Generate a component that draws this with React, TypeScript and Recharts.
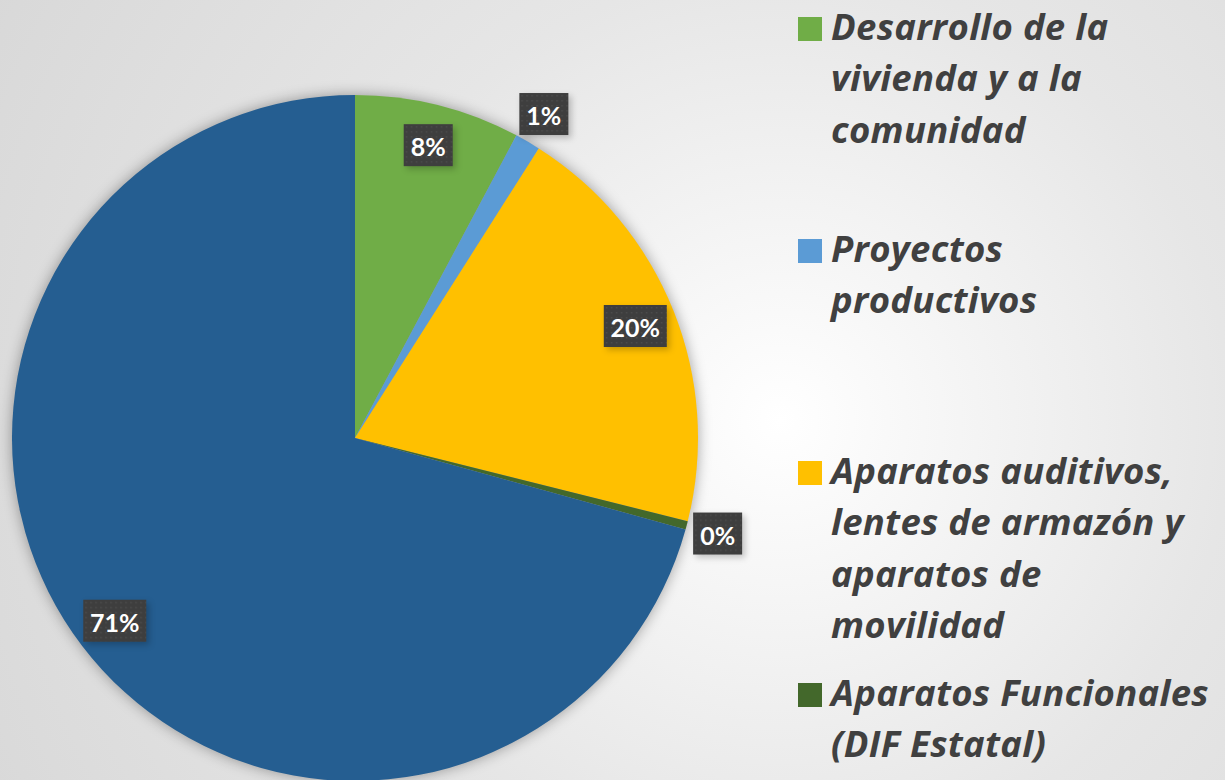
import React from 'react';
import { PieChart, Pie, Cell, Legend } from 'recharts';

const categories = [
  'Desarrollo de la vivienda y a la comunidad',
  'Proyectos productivos',
  'Aparatos auditivos, lentes de armazón y aparatos de movilidad',
  'Aparatos Funcionales (DIF Estatal)',
  'Otros apoyos',
];
const values = [7.8, 1.2, 19.9, 0.4, 70.7];
const colors = ['#70AD47', '#5B9BD5', '#FFC000', '#43682B', '#255E91'];
const legendLines = [
  ['Desarrollo de la', 'vivienda y a la', 'comunidad'],
  ['Proyectos', 'productivos'],
  ['Aparatos auditivos,', 'lentes de armazón y', 'aparatos de', 'movilidad'],
  ['Aparatos Funcionales', '(DIF Estatal)'],
  ['Otros apoyos'],
];

const data = categories.map((name, i) => ({ name, value: values[i] }));

const RAD = Math.PI / 180;
const LEGEND_FS = 36.5;

const renderLabel = (props: any) => {
  const { cx, cy, midAngle, outerRadius, percent, index } = props;
  const r = percent < 0.05 ? outerRadius + 32 : outerRadius * 0.88;
  const x = cx + r * Math.cos(-midAngle * RAD);
  const y = cy + r * Math.sin(-midAngle * RAD);
  const text = `${Math.round(percent * 100)}%`;
  const w = 21 + 14 * text.length;
  const h = 42;
  const pid = `dots${index}`;
  return (
    <g key={`lbl${index}`}>
      <defs>
        <pattern id={pid} width={5} height={5} patternUnits="userSpaceOnUse" x={x - w / 2} y={y - h / 2}>
          <rect width={5} height={5} fill="#3e3e3e" />
          <rect x={2} y={2} width={1.5} height={1.5} fill="#4c4c4c" />
        </pattern>
      </defs>
      <rect x={x - w / 2 + 3} y={y - h / 2 + 3} width={w} height={h} fill="rgba(0,0,0,0.22)" style={{ filter: 'blur(3px)' }} />
      <rect x={x - w / 2} y={y - h / 2} width={w} height={h} fill={`url(#${pid})`} />
      <text
        x={x}
        y={y + 1}
        textAnchor="middle"
        dominantBaseline="central"
        fill="#ffffff"
        fontFamily="Lato, 'Open Sans', sans-serif"
        fontWeight={700}
        fontSize={25}
      >
        {text}
      </text>
    </g>
  );
};

const renderLegend = () => {
  return (
    <div style={{ position: 'relative', width: 435, height: 780 }}>
      {legendLines.slice(0, 4).map((lines, i) => {
        const top = 17 + 222 * i;
        return (
          <div key={i} style={{ position: 'absolute', left: 0, top }}>
            <div
              style={{
                position: 'absolute',
                left: 8,
                top: 0,
                width: 24,
                height: 24,
                background: colors[i],
              }}
            />
            {lines.map((ln: string, j: number) => (
              <div
                key={j}
                style={{
                  position: 'absolute',
                  left: 41,
                  top: 23 + 51.5 * j - 0.888 * LEGEND_FS,
                  whiteSpace: 'nowrap',
                  fontFamily: "'Open Sans', Lato, sans-serif",
                  fontStyle: 'italic',
                  fontWeight: 700,
                  fontSize: LEGEND_FS,
                  letterSpacing: 0.3,
                  lineHeight: `${LEGEND_FS}px`,
                  color: '#404040',
                }}
              >
                {ln}
              </div>
            ))}
          </div>
        );
      })}
    </div>
  );
};

export default function App() {
  return (
    <div
      style={{
        position: 'absolute',
        left: 0,
        top: 0,
        width: 1225,
        height: 780,
        overflow: 'hidden',
        background:
          'radial-gradient(circle 900px at 780px 420px, #ffffff 0%, #f6f6f6 18%, #e6e6e6 50%, #d8d8d8 100%)',
      }}
    >
      <style>{`.recharts-pie { filter: drop-shadow(0 0 7px rgba(0,0,0,0.35)); }`}</style>
      <PieChart width={1225} height={780} margin={{ top: 0, right: 0, bottom: 0, left: 0 }}>
        <Pie
          data={data}
          dataKey="value"
          nameKey="name"
          cx={355}
          cy={438}
          outerRadius={343}
          startAngle={90}
          endAngle={-270}
          stroke="none"
          label={renderLabel}
          labelLine={false}
          isAnimationActive={false}
        >
          {data.map((d, i) => (
            <Cell key={d.name} fill={colors[i]} />
          ))}
        </Pie>
        <Legend
          layout="vertical"
          align="right"
          verticalAlign="top"
          content={renderLegend}
          wrapperStyle={{ position: 'absolute', left: 790, top: 0, width: 435, height: 780 }}
        />
      </PieChart>
    </div>
  );
}
